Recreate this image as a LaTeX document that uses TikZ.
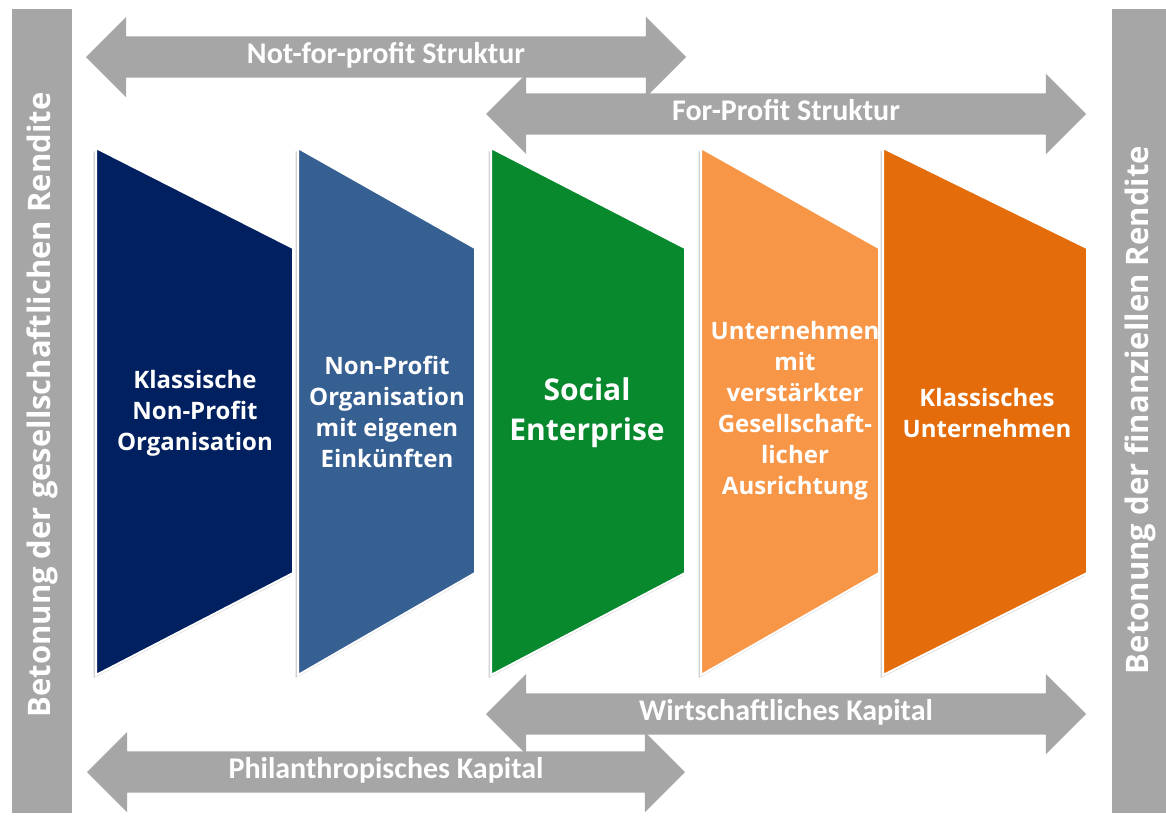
\documentclass[tikz,border=0pt]{standalone}
\usepackage{fontspec}
\setmainfont{Carlito}
\newfontfamily\widefont{Open Sans}
\usetikzlibrary{shapes.arrows}
\definecolor{barGray}{RGB}{166,166,166}
\definecolor{npoNavy}{RGB}{0,32,96}
\definecolor{npoBlue}{RGB}{55,96,146}
\definecolor{seGreen}{RGB}{8,137,46}
\definecolor{csrOrange}{RGB}{247,150,70}
\definecolor{bizOrange}{RGB}{228,108,10}
\tikzset{
  axisbar/.style={fill=barGray},
  axislabel/.style={rotate=90, text=white, font=\widefont\bfseries\fontsize{31}{33}\selectfont},
  spanarrow/.style={double arrow, fill=barGray, inner xsep=0pt, inner ysep=0pt,
    text height=27pt, text depth=14pt, double arrow head extend=19.5pt,
    minimum height=600pt, text=white, font=\bfseries\fontsize{30}{31}\selectfont},
  panel/.style={draw=white, line width=2pt},
  panelshadow/.style={fill=black!18, xshift=-2.5pt, yshift=-3pt},
  paneltext/.style={text=white, align=center, font=\widefont\bfseries\fontsize{24}{31}\selectfont}
}
\begin{document}
\begin{tikzpicture}[x=1pt, y=-1pt]
  \useasboundingbox[fill=white] (0,0) rectangle (1166,815);
  % side bars
  \fill[axisbar] (12,9) rectangle (72,813);
  \fill[axisbar] (1112,9) rectangle (1166,813);
  \node[axislabel] (social) at (42,405) {Betonung der gesellschaftlichen Rendite};
  \node[axislabel] (financial) at (1140,410) {Betonung der finanziellen Rendite};
  % span arrows
  \node[spanarrow] (nfp) at (386,57) {Not-for-profit Struktur};
  \node[spanarrow] (fp) at (786,114) {For-Profit Struktur};
  \node[spanarrow] (wk) at (786,714) {Wirtschaftliches Kapital};
  \node[spanarrow, minimum height=598pt] (pk) at (386,772) {Philanthropisches Kapital};
  % panels
  \fill[panelshadow] (96,148) -- (293,248) -- (293,573) -- (96,675) -- cycle;
  \filldraw[panel, fill=npoNavy] (96,148) -- (293,248) -- (293,573) -- (96,675) -- cycle;
  \fill[panelshadow] (298,148) -- (475,248) -- (475,573) -- (298,675) -- cycle;
  \filldraw[panel, fill=npoBlue] (298,148) -- (475,248) -- (475,573) -- (298,675) -- cycle;
  \fill[panelshadow] (491,148) -- (685,248) -- (685,573) -- (491,675) -- cycle;
  \filldraw[panel, fill=seGreen] (491,148) -- (685,248) -- (685,573) -- (491,675) -- cycle;
  \fill[panelshadow] (701,148) -- (879,248) -- (879,573) -- (701,675) -- cycle;
  \filldraw[panel, fill=csrOrange] (701,148) -- (879,248) -- (879,573) -- (701,675) -- cycle;
  \fill[panelshadow] (883,148) -- (1087,248) -- (1087,573) -- (883,675) -- cycle;
  \filldraw[panel, fill=bizOrange] (883,148) -- (1087,248) -- (1087,573) -- (883,675) -- cycle;
  % panel texts
  \node[paneltext] (npo) at (195,413) {Klassische\\Non-Profit\\Organisation};
  \node[paneltext] (npoinc) at (387,412) {Non-Profit\\Organisation\\mit eigenen\\Einkünften};
  \node[paneltext, font=\widefont\bfseries\fontsize{30}{40}\selectfont] (se) at (587,413) {Social\\Enterprise};
  \node[paneltext] (csr) at (795,411) {Unternehmen\\mit\\verstärkter\\Gesellschaft-\\licher\\Ausrichtung};
  \node[paneltext] (biz) at (987,413) {Klassisches\\Unternehmen};
\end{tikzpicture}
\end{document}
